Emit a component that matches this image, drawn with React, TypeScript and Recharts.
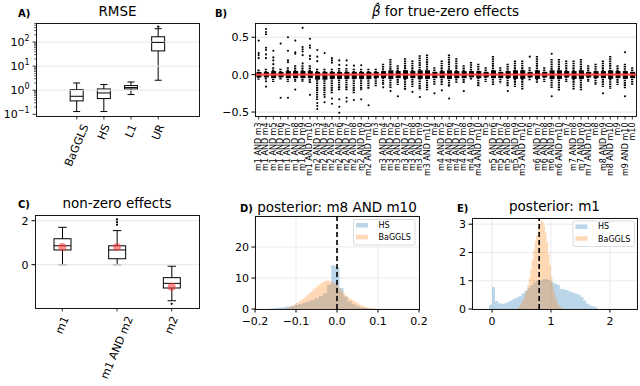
import React from "react";
import {
  ComposedChart,
  Bar,
  Scatter,
  Area,
  XAxis,
  YAxis,
  CartesianGrid,
  ReferenceLine,
} from "recharts";

// ---------- A) RMSE per method (log scale)
const rmseMethods = ["BaGGLS", "HS", "L1", "UR"];
const rmseLow = [0.13, 0.13, 0.66, 2.6];
const rmseQ1 = [0.36, 0.45, 1.13, 43];
const rmseMedian = [0.56, 0.77, 1.29, 97];
const rmseQ3 = [1.07, 1.13, 1.56, 166];
const rmseHigh = [2.0, 1.72, 2.2, 360];
const rmseFliers: number[][] = [[], [], [], [440]];
const rmseMajorTicks = [0.1, 1, 10, 100];
const rmseMinorTicks = [
  0.2, 0.3, 0.4, 0.5, 0.6, 0.7, 0.8, 0.9, 2, 3, 4, 5, 6, 7, 8, 9, 20, 30, 40,
  50, 60, 70, 80, 90, 200, 300, 400, 500, 600,
];

// ---------- B) beta-hat for true-zero effects
const betaLabels = [
  "m1 AND m3", "m1 AND m4", "m1 AND m5", "m1 AND m6", "m1 AND m7", "m1 AND m8", "m1 AND m9", "m1 AND m10",
  "m2 AND m3", "m2 AND m4", "m2 AND m5", "m2 AND m6", "m2 AND m7", "m2 AND m8", "m2 AND m9", "m2 AND m10",
  "m3", "m3 AND m4", "m3 AND m5", "m3 AND m6", "m3 AND m7", "m3 AND m8", "m3 AND m9", "m3 AND m10",
  "m4", "m4 AND m5", "m4 AND m6", "m4 AND m7", "m4 AND m8", "m4 AND m9", "m4 AND m10",
  "m5", "m5 AND m6", "m5 AND m7", "m5 AND m8", "m5 AND m9", "m5 AND m10",
  "m6", "m6 AND m7", "m6 AND m8", "m6 AND m9", "m6 AND m10",
  "m7", "m7 AND m8", "m7 AND m9", "m7 AND m10",
  "m8", "m8 AND m9", "m8 AND m10",
  "m9", "m9 AND m10",
  "m10",
];
const betaLow = [
  -0.07, -0.07, -0.1, -0.07, -0.1, -0.1, -0.1, -0.12,
  -0.34, -0.28, -0.25, -0.21, -0.21, -0.25, -0.21, -0.19,
  -0.165, -0.14, -0.19, -0.14, -0.21, -0.165, -0.21, -0.21,
  -0.14, -0.14, -0.165, -0.12, -0.12, -0.076, -0.165,
  -0.1, -0.14, -0.12, -0.165, -0.165, -0.21,
  -0.076, -0.12, -0.1, -0.19, -0.22,
  -0.1, -0.2, -0.21, -0.1,
  -0.14, -0.165, -0.19,
  -0.14, -0.19,
  -0.14,
];
const betaHigh = [
  0.07, 0.08, 0.1, 0.08, 0.1, 0.125, 0.125, 0.125,
  0.08, 0.08, 0.08, 0.09, 0.09, 0.08, 0.08, 0.08,
  0.08, 0.147, 0.21, 0.125, 0.22, 0.19, 0.26, 0.27,
  0.1, 0.19, 0.27, 0.22, 0.125, 0.17, 0.147,
  0.1, 0.25, 0.1, 0.147, 0.19, 0.19,
  0.1, 0.25, 0.1, 0.21, 0.21,
  0.19, 0.19, 0.21, 0.125,
  0.147, 0.19, 0.25,
  0.125, 0.147,
  0.1,
];
const betaQ1 = [
  -0.03, -0.03, -0.04, -0.03, -0.04, -0.04, -0.04, -0.04,
  -0.06, -0.06, -0.05, -0.05, -0.05, -0.05, -0.05, -0.05,
  -0.04, -0.04, -0.05, -0.04, -0.05, -0.04, -0.05, -0.05,
  -0.04, -0.04, -0.05, -0.04, -0.04, -0.03, -0.04,
  -0.03, -0.04, -0.04, -0.04, -0.05, -0.05,
  -0.03, -0.05, -0.03, -0.05, -0.05,
  -0.03, -0.05, -0.05, -0.03,
  -0.04, -0.04, -0.05,
  -0.04, -0.05,
  -0.04,
];
const betaQ3 = [
  0.03, 0.03, 0.04, 0.03, 0.04, 0.04, 0.04, 0.04,
  0.03, 0.03, 0.03, 0.03, 0.03, 0.03, 0.03, 0.03,
  0.03, 0.04, 0.05, 0.04, 0.05, 0.04, 0.05, 0.05,
  0.03, 0.04, 0.05, 0.04, 0.04, 0.04, 0.04,
  0.03, 0.05, 0.03, 0.04, 0.05, 0.05,
  0.03, 0.05, 0.03, 0.05, 0.05,
  0.04, 0.04, 0.05, 0.03,
  0.04, 0.04, 0.05,
  0.04, 0.04,
  0.03,
];
const betaFliers: number[][] = [
  [0.455, 0.29, 0.26, 0.22],
  [0.61, 0.57, 0.54, 0.36, 0.33, 0.27, 0.22, -0.09, -0.16],
  [0.32, 0.23, 0.19, 0.14],
  [0.415, -0.31],
  [0.5, 0.32, 0.19, 0.165, -0.31],
  [0.455, 0.3, 0.28, -0.2],
  [0.625, 0.37, 0.34, 0.31, 0.26, 0.15],
  [0.48, 0.39, 0.36, 0.25, 0.21, -0.27],
  [0.33, 0.24, 0.18, -0.38, -0.42, -0.46],
  [0.29, -0.3, -0.37],
  [0.22, 0.19, 0.16, -0.32, -0.39],
  [0.19, 0.13, -0.33, -0.43, -0.51],
  [0.19, 0.125, -0.31, -0.36],
  [0.12, -0.34],
  [0.125, -0.33],
  [-0.41],
  [],
  [-0.17],
  [-0.22],
  [-0.29],
  [],
  [-0.23],
  [-0.3],
  [],
  [-0.25],
  [-0.21],
  [-0.32],
  [],
  [-0.22],
  [],
  [],
  [],
  [],
  [],
  [-0.22],
  [],
  [],
  [0.24],
  [],
  [],
  [0.28, -0.29],
  [],
  [],
  [],
  [],
  [],
  [],
  [-0.25],
  [],
  [],
  [0.3, -0.29],
  [],
];
const betaTrueValue = 0;
const betaTicks = [-0.5, 0, 0.5];

// ---------- C) non-zero effects
const effectNames = ["m1", "m1 AND m2", "m2"];
const effectLow = [0.0, 0.0, -1.64];
const effectQ1 = [0.67, 0.27, -1.06];
const effectMedian = [0.86, 0.67, -0.85];
const effectQ3 = [1.18, 0.86, -0.59];
const effectHigh = [1.7, 1.55, -0.07];
const effectFliers: number[][] = [[], [1.82, 1.94, 2.06], [-1.78]];
const effectTrue = [0.8, 0.8, -1.0];
const effectTicks = [0, 2];

// ---------- D / E) posterior histograms
const seriesNames = ["HS", "BaGGLS"];

const dHsEdges = [
  -0.164, -0.154, -0.144, -0.134, -0.124, -0.114, -0.104, -0.094, -0.084, -0.074,
  -0.064, -0.054, -0.044, -0.034, -0.024, -0.014, -0.004, 0.006, 0.016, 0.026,
  0.036, 0.046, 0.056, 0.066, 0.076, 0.086, 0.096,
];
const dHsDensity = [
  0.2, 0.3, 0.5, 0.6, 0.8, 1.0, 1.3, 1.6, 2.0, 2.4, 2.9, 3.5, 4.2, 5.1, 7.9,
  14.1, 13.5, 6.8, 4.0, 2.5, 1.5, 0.9, 0.5, 0.3, 0.15, 0.08,
];
const dBgEdges = [
  -0.125, -0.12, -0.115, -0.11, -0.105, -0.1, -0.095, -0.09, -0.085, -0.08,
  -0.075, -0.07, -0.065, -0.06, -0.055, -0.05, -0.045, -0.04, -0.035, -0.03,
  -0.025, -0.02, -0.015, -0.01, -0.005, 0.0, 0.005, 0.01, 0.015, 0.02,
  0.025, 0.03, 0.035, 0.04, 0.045, 0.05, 0.055, 0.06, 0.065, 0.07,
  0.075, 0.08, 0.085, 0.09, 0.095,
];
const dBgDensity = [
  0.3, 0.5, 0.8, 1.1, 1.5, 1.9, 2.3, 2.8, 3.3, 3.8,
  4.4, 5.0, 5.6, 6.2, 6.8, 7.4, 7.9, 8.4, 8.8, 9.1,
  9.2, 9.0, 8.8, 8.5, 8.0, 7.3, 6.5, 5.8, 5.0, 4.3,
  3.8, 3.3, 2.9, 2.5, 2.2, 1.8, 1.4, 1.1, 0.8, 0.6,
  0.4, 0.25, 0.15, 0.08,
];
const dTrue = 0.0;
const dXTicks = [-0.2, -0.1, 0, 0.1, 0.2];
const dYTicks = [0, 10, 20];

const eHsEdges = [
  -0.05, 0.0, 0.05, 0.1, 0.15, 0.2, 0.25, 0.3, 0.35, 0.4, 0.45, 0.5, 0.55,
  0.6, 0.65, 0.7, 0.75, 0.8, 0.85, 0.9, 0.95, 1.0, 1.05, 1.1, 1.15, 1.2,
  1.25, 1.3, 1.35, 1.4, 1.45, 1.5, 1.55, 1.6, 1.65, 1.7, 1.75, 1.8,
];
const eHsDensity = [
  0.15, 0.78, 0.28, 0.2, 0.19, 0.2, 0.25, 0.3, 0.35, 0.4, 0.45, 0.55, 0.65,
  0.75, 0.85, 0.95, 1.0, 1.0, 1.05, 1.05, 1.02, 0.95, 0.9, 0.85, 0.72, 0.7,
  0.66, 0.62, 0.58, 0.55, 0.5, 0.43, 0.3, 0.19, 0.12, 0.1, 0.05,
];
const eBgEdges = [
  0.45, 0.475, 0.5, 0.525, 0.55, 0.575, 0.6, 0.625, 0.65, 0.675, 0.7, 0.725,
  0.75, 0.775, 0.8, 0.825, 0.85, 0.875, 0.9, 0.925, 0.95, 0.975, 1.0, 1.025,
  1.05, 1.075, 1.1, 1.125, 1.15, 1.175, 1.2,
];
const eBgDensity = [
  0.08, 0.15, 0.25, 0.35, 0.5, 0.65, 0.85, 1.1, 1.4, 1.75, 2.1, 2.4, 2.6,
  2.85, 3.0, 3.15, 3.1, 2.95, 2.7, 2.35, 1.95, 1.55, 1.15, 0.8, 0.55, 0.35,
  0.22, 0.12, 0.06, 0.03,
];
const eTrue = 0.8;
const eXTicks = [0, 1, 2];
const eYTicks = [0, 1, 2, 3];

// ---------- shared styling
const FONT = '"DejaVu Sans", sans-serif';
const GRID = "#e6e6e6";
const BLUE = "#1f77b4";
const ORANGE = "#ff7f0e";
const RED = "#ff3030";
const TICK = { fill: "#000", fontSize: 11 };

const minus = (s: string) => s.replace("-", "\u2212");

let measureCtx: CanvasRenderingContext2D | null = null;
function textWidth(s: string, size: number) {
  if (!measureCtx && typeof document !== "undefined") {
    measureCtx = document.createElement("canvas").getContext("2d");
  }
  if (!measureCtx) return s.length * size * 0.6;
  measureCtx.font = `${size}px "DejaVu Sans"`;
  return measureCtx.measureText(s).width;
}

// rotated category label, bbox centred under the tick (matplotlib style)
function SlantTick(props: any) {
  const { x, y, payload } = props;
  const fs = 11;
  const angle = 67;
  const label = String(payload.value);
  const rad = (angle * Math.PI) / 180;
  const len = textWidth(label, fs);
  const top = y + 7;
  const cy = top + (len * Math.sin(rad) + fs * 0.95 * Math.cos(rad)) / 2;
  return (
    <g>
      <line x1={x} x2={x} y1={y} y2={y + 3.5} stroke="#000" strokeWidth={0.8} />
      <text
        x={x}
        y={cy}
        textAnchor="middle"
        dominantBaseline="central"
        fontSize={fs}
        fill="#000"
        transform={`rotate(${-angle} ${x} ${cy})`}
      >
        {label}
      </text>
    </g>
  );
}

function VertTick(props: any) {
  const { x, y, payload } = props;
  const ty = y + 6.5;
  return (
    <g>
      <line x1={x} x2={x} y1={y} y2={y + 3.5} stroke="#000" strokeWidth={0.8} />
      <text
        x={x}
        y={ty}
        textAnchor="end"
        dominantBaseline="central"
        fontSize={8}
        fill="#000"
        transform={`rotate(-90 ${x} ${ty})`}
      >
        {payload.value}
      </text>
    </g>
  );
}

function LogTick(props: any) {
  const { x, y, payload } = props;
  const v = payload.value as number;
  const major = rmseMajorTicks.includes(v);
  const e = Math.round(Math.log10(v));
  return (
    <g>
      <line x1={x - (major ? 3.5 : 2)} x2={x} y1={y} y2={y} stroke="#000" strokeWidth={major ? 0.8 : 0.6} />
      {major && (
        <text x={x - 6.5} y={y + 4} textAnchor="end" fontSize={11} fill="#000">
          10
          <tspan fontSize={8} dy={-5}>
            {e < 0 ? `\u2212${-e}` : e}
          </tspan>
        </text>
      )}
    </g>
  );
}

const whiskerShape = (cap: number, lw = 1, dash?: string) => (p: any) => {
  const cx = p.x + p.width / 2;
  const top = Math.min(p.y, p.y + p.height);
  const bot = Math.max(p.y, p.y + p.height);
  return (
    <g>
      <line x1={cx} x2={cx} y1={top} y2={bot} stroke="#000" strokeWidth={lw} strokeDasharray={dash} />
      {cap > 0 && <line x1={cx - cap / 2} x2={cx + cap / 2} y1={top} y2={top} stroke="#000" />}
      {cap > 0 && <line x1={cx - cap / 2} x2={cx + cap / 2} y1={bot} y2={bot} stroke="#000" />}
    </g>
  );
};

const boxShape = (fill: string) => (p: any) => (
  <rect
    x={p.x}
    y={Math.min(p.y, p.y + p.height)}
    width={p.width}
    height={Math.abs(p.height)}
    fill={fill}
    stroke="#000"
    strokeWidth={1}
  />
);

const medianShape = (w: number) => (p: any) => (
  <line x1={p.cx - w / 2} x2={p.cx + w / 2} y1={p.cy} y2={p.cy} stroke="#000" strokeWidth={1} />
);

const dotShape = (r: number, fill: string, opacity = 1) => (p: any) => (
  <circle cx={p.cx} cy={p.cy} r={r} fill={fill} fillOpacity={opacity} />
);

const dashShape = (w: number, h: number, fill: string) => (p: any) => (
  <rect x={p.cx - w / 2} y={p.cy - h / 2} width={w} height={h} fill={fill} fillOpacity={0.8} />
);

const yFmt = (v: number) => minus(v.toFixed(1));

// hidden helper axes sit on top with no height, so the visible bottom axis stays at the plot edge
function RmsePanel() {
  const rows = rmseMethods.map((name, i) => ({
    name,
    whisker: [rmseLow[i], rmseHigh[i]],
    box: [rmseQ1[i], rmseQ3[i]],
    median: rmseMedian[i],
  }));
  const fliers = rmseFliers.flatMap((vals, i) => vals.map((v) => ({ pos: i + 0.5, v })));
  const pad = 163 / 6;
  return (
    <ComposedChart width={220} height={200} data={rows} margin={{ top: 23, right: 21, left: 6, bottom: 24 }}>
      <XAxis xAxisId="cat" dataKey="name" type="category" padding={{ left: pad, right: pad }} height={60}
        axisLine={false} tickLine={false} tickSize={0} tickMargin={0} interval={0} tick={(p: any) => <SlantTick {...p} />} />
      <XAxis xAxisId="box" orientation="top" height={0} dataKey="name" type="category" padding={{ left: pad, right: pad }} hide />
      <XAxis xAxisId="pos" orientation="top" height={0} dataKey="pos" type="number" domain={[-1, 5]} allowDataOverflow hide />
      <YAxis scale="log" type="number" domain={[0.085, 620]} allowDataOverflow width={30}
        ticks={[...rmseMinorTicks, ...rmseMajorTicks]} interval={0} axisLine={false} tickLine={false}
        tickSize={0} tickMargin={0} tick={(p: any) => <LogTick {...p} />} />
      {rmseMajorTicks.slice(1).map((t) => (
        <ReferenceLine key={t} xAxisId="cat" y={t} stroke={GRID} strokeWidth={1} />
      ))}
      <Bar xAxisId="cat" dataKey="whisker" barSize={7} shape={whiskerShape(7)} isAnimationActive={false} />
      <Bar xAxisId="box" dataKey="box" barSize={13} shape={boxShape("#fff")} isAnimationActive={false} />
      <Scatter xAxisId="cat" dataKey="median" shape={medianShape(13)} isAnimationActive={false} />
      <Scatter xAxisId="pos" data={fliers} dataKey="v" shape={dotShape(1.2, "#000")} isAnimationActive={false} />
    </ComposedChart>
  );
}

function BetaPanel() {
  const rows = betaLabels.map((name, i) => ({
    name,
    whisker: [betaLow[i], betaHigh[i]],
    box: [betaQ1[i], betaQ3[i]],
    truth: betaTrueValue,
  }));
  const fliers = betaFliers.flatMap((vals, i) => vals.map((v) => ({ pos: i + 0.5, v })));
  const band = 381 / betaLabels.length;
  return (
    <ComposedChart width={420} height={200} data={rows} margin={{ top: 23, right: 4, left: 0, bottom: 14 }}>
      <XAxis xAxisId="cat" dataKey="name" type="category" height={70} axisLine={false} tickLine={false}
        tickSize={0} tickMargin={0} interval={0} tick={(p: any) => <VertTick {...p} />} />
      <XAxis xAxisId="box" orientation="top" height={0} dataKey="name" type="category" hide />
      <XAxis xAxisId="pos" orientation="top" height={0} dataKey="pos" type="number" domain={[0, betaLabels.length]} allowDataOverflow hide />
      <YAxis type="number" domain={[-0.553, 0.69]} allowDataOverflow width={35} ticks={betaTicks}
        interval={0} axisLine={false} tickSize={3.5} tickMargin={2.5} tickLine={{ stroke: "#000" }}
        tick={TICK} tickFormatter={yFmt} />
      {betaTicks.map((t) => (
        <ReferenceLine key={t} xAxisId="cat" y={t} stroke={GRID} strokeWidth={1} />
      ))}
      <Scatter xAxisId="cat" dataKey="truth" shape={dashShape(band + 0.2, 2.4, RED)} isAnimationActive={false} />
      <Bar xAxisId="cat" dataKey="whisker" barSize={3} shape={whiskerShape(0, 2.2, "1.6 0.7")} isAnimationActive={false} />
      <Bar xAxisId="box" dataKey="box" barSize={4} shape={boxShape("#000")} isAnimationActive={false} />
      <Scatter xAxisId="pos" data={fliers} dataKey="v" shape={dotShape(1.05, "#000")} isAnimationActive={false} />
    </ComposedChart>
  );
}

function EffectsPanel() {
  const rows = effectNames.map((name, i) => ({
    name,
    whisker: [effectLow[i], effectHigh[i]],
    box: [effectQ1[i], effectQ3[i]],
    median: effectMedian[i],
    truth: effectTrue[i],
  }));
  const fliers = effectFliers.flatMap((vals, i) => vals.map((v) => ({ pos: i + 0.5, v })));
  return (
    <ComposedChart width={220} height={186} data={rows} margin={{ top: 15, right: 21, left: 6, bottom: 8 }}>
      <XAxis xAxisId="cat" dataKey="name" type="category" height={70} axisLine={false} tickLine={false}
        tickSize={0} tickMargin={0} interval={0} tick={(p: any) => <SlantTick {...p} />} />
      <XAxis xAxisId="box" orientation="top" height={0} dataKey="name" type="category" hide />
      <XAxis xAxisId="pos" orientation="top" height={0} dataKey="pos" type="number" domain={[0, effectNames.length]} allowDataOverflow hide />
      <YAxis type="number" domain={[-1.97, 2.26]} allowDataOverflow width={29} ticks={effectTicks}
        interval={0} axisLine={false} tickSize={3.5} tickMargin={3} tickLine={{ stroke: "#000" }} tick={TICK} />
      {effectTicks.map((t) => (
        <ReferenceLine key={t} xAxisId="cat" y={t} stroke={GRID} strokeWidth={1} />
      ))}
      <Bar xAxisId="cat" dataKey="whisker" barSize={9} shape={whiskerShape(8.5)} isAnimationActive={false} />
      <Bar xAxisId="box" dataKey="box" barSize={17} shape={boxShape("#fff")} isAnimationActive={false} />
      <Scatter xAxisId="cat" dataKey="median" shape={medianShape(17)} isAnimationActive={false} />
      <Scatter xAxisId="pos" data={fliers} dataKey="v" shape={dotShape(1.1, "#000")} isAnimationActive={false} />
      <Scatter xAxisId="cat" dataKey="truth" shape={dotShape(4, RED, 0.55)} isAnimationActive={false} />
    </ComposedChart>
  );
}

const toSteps = (edges: number[], counts: number[]) =>
  edges.map((x, i) => ({ x, y: i < counts.length ? counts[i] : 0 }));

interface HistProps {
  left: number;
  width: number;
  margin: { top: number; right: number; left: number; bottom: number };
  yWidth: number;
  xDomain: [number, number];
  yDomain: [number, number];
  xTicks: number[];
  yTicks: number[];
  xFmt: (v: number) => string;
  hs: { x: number; y: number }[];
  bg: { x: number; y: number }[];
  truth: number;
}

function HistPanel(p: HistProps) {
  const pos: React.CSSProperties = { position: "absolute", left: p.left, top: 200 };
  return (
    <>
      <div style={pos}>
        <ComposedChart width={p.width} height={186} data={p.hs} margin={p.margin}>
          <CartesianGrid stroke={GRID} strokeWidth={0.8} />
          <XAxis type="number" dataKey="x" domain={p.xDomain} allowDataOverflow ticks={p.xTicks} interval={0}
            height={30} axisLine={false} tickSize={3.5} tickMargin={4.5} tickLine={{ stroke: "#000" }}
            tick={TICK} tickFormatter={p.xFmt} />
          <YAxis type="number" domain={p.yDomain} allowDataOverflow ticks={p.yTicks} interval={0}
            width={p.yWidth} axisLine={false} tickSize={3.5} tickMargin={2.5} tickLine={{ stroke: "#000" }}
            tick={TICK} />
          <Area type="stepAfter" dataKey="y" fill={BLUE} fillOpacity={0.3} stroke="none" isAnimationActive={false} />
        </ComposedChart>
      </div>
      <div style={pos}>
        <ComposedChart width={p.width} height={186} data={p.bg} margin={p.margin}>
          <XAxis type="number" dataKey="x" domain={p.xDomain} allowDataOverflow height={30}
            axisLine={false} tickLine={false} tick={false} />
          <YAxis type="number" domain={p.yDomain} allowDataOverflow width={p.yWidth}
            axisLine={false} tickLine={false} tick={false} />
          <Area type="stepAfter" dataKey="y" fill={ORANGE} fillOpacity={0.3} stroke="none" isAnimationActive={false} />
          <ReferenceLine x={p.truth} stroke="#000" strokeWidth={1.6} strokeDasharray="5 3" />
        </ComposedChart>
      </div>
    </>
  );
}

function Legend({ x, y }: { x: number; y: number }) {
  const colors = [BLUE, ORANGE];
  return (
    <g>
      <rect x={x} y={y} width={61.5} height={25.5} rx={2} fill="#fff" fillOpacity={0.8} stroke="#d3d3d3" strokeWidth={0.8} />
      {seriesNames.map((s, i) => (
        <g key={s}>
          <rect x={x + 2.5} y={y + 3.5 + i * 11.8} width={12} height={4.5} fill={colors[i]} fillOpacity={0.3} />
          <text x={x + 25} y={y + 8.3 + i * 12.3} fontSize={8} fill="#000">
            {s}
          </text>
        </g>
      ))}
    </g>
  );
}

function Overlay() {
  const frames = [
    [36, 23, 163, 93],
    [255, 23, 381, 93],
    [35, 215, 164, 93],
    [255, 216, 164, 93],
    [472, 218, 165, 91],
  ];
  const letter = { fontSize: 10, fontWeight: 700, fill: "#000" } as const;
  const title = { fontSize: 13.5, fill: "#000", textAnchor: "middle" } as const;
  return (
    <svg width={640} height={386} style={{ position: "absolute", left: 0, top: 0, pointerEvents: "none" }}>
      {frames.map(([x, y, w, h], i) => (
        <rect key={i} x={x + 0.5} y={y + 0.5} width={w} height={h} fill="none" stroke="#000" strokeWidth={0.9} />
      ))}
      <text x={18} y={17} {...letter}>A)</text>
      <text x={117.5} y={16} {...title}>RMSE</text>
      <text x={215} y={17} {...letter}>B)</text>
      <text x={445.5} y={16} {...title}>
        <tspan fontStyle="italic">{"\u03B2\u0302"}</tspan> for true-zero effects
      </text>
      <text x={18} y={208} {...letter}>C)</text>
      <text x={117} y={208} {...title}>non-zero effects</text>
      <text x={240} y={212} {...letter}>D)</text>
      <text x={337} y={212} {...title}>posterior: m8 AND m10</text>
      <text x={457} y={212} {...letter}>E)</text>
      <text x={554.5} y={211} {...title}>posterior: m1</text>
      <Legend x={353.5} y={219.5} />
      <Legend x={573} y={221} />
    </svg>
  );
}

export default function App() {
  return (
    <div
      style={{
        position: "absolute",
        left: 0,
        top: 0,
        width: 640,
        height: 386,
        background: "#fff",
        overflow: "hidden",
        fontFamily: FONT,
      }}
    >
      <div style={{ position: "absolute", left: 0, top: 0 }}>
        <RmsePanel />
      </div>
      <div style={{ position: "absolute", left: 220, top: 0 }}>
        <BetaPanel />
      </div>
      <div style={{ position: "absolute", left: 0, top: 200 }}>
        <EffectsPanel />
      </div>
      <HistPanel
        left={220}
        width={220}
        margin={{ top: 16, right: 21, left: 0, bottom: 47 }}
        yWidth={35}
        xDomain={[-0.2, 0.2]}
        yDomain={[0, 30]}
        xTicks={dXTicks}
        yTicks={dYTicks}
        xFmt={(v) => minus(v.toFixed(1))}
        hs={toSteps(dHsEdges, dHsDensity)}
        bg={toSteps(dBgEdges, dBgDensity)}
        truth={dTrue}
      />
      <HistPanel
        left={440}
        width={200}
        margin={{ top: 18, right: 3, left: 0, bottom: 47 }}
        yWidth={32}
        xDomain={[-0.34, 2.46]}
        yDomain={[0, 3.22]}
        xTicks={eXTicks}
        yTicks={eYTicks}
        xFmt={(v) => String(v)}
        hs={toSteps(eHsEdges, eHsDensity)}
        bg={toSteps(eBgEdges, eBgDensity)}
        truth={eTrue}
      />
      <Overlay />
    </div>
  );
}
